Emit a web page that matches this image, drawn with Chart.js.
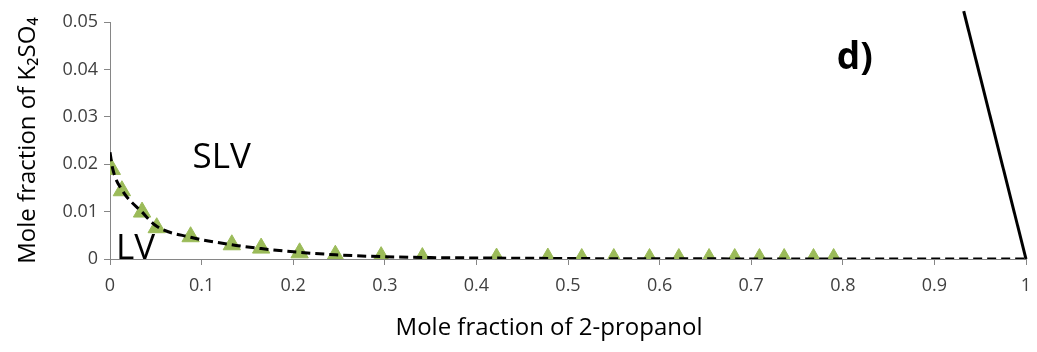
<!DOCTYPE html>
<html>
<head>
<meta charset="utf-8">
<script src="https://cdn.jsdelivr.net/npm/chart.js@4"></script>
<style>
  html, body { margin: 0; padding: 0; background: #fff; }
  #chart { display: block; }
</style>
</head>
<body>
<canvas id="chart" width="1037" height="352"></canvas>
<script>
// measured points (triangles)
const triX = [0.002, 0.013, 0.035, 0.051, 0.088, 0.133, 0.165, 0.207, 0.246, 0.296, 0.341, 0.422,
    0.478, 0.515, 0.550, 0.589, 0.621, 0.654, 0.682, 0.709, 0.736, 0.768, 0.790];
const triY = [0.0189, 0.0144, 0.0099, 0.0066, 0.0047, 0.0030, 0.0023, 0.0013, 0.0008, 0.0005, 0.0003, 0.0002,
    0.0002, 0.0001, 0.0001, 0.0001, 0.0001, 0.0001, 0.0001, 0.0001, 0.0001, 0.0001, 0.0001];

// model curve (dashed)
const curveX = [0, 0.003, 0.013, 0.035, 0.051, 0.088, 0.133, 0.165, 0.207, 0.246, 0.296, 0.35, 0.42, 0.5, 0.6, 0.7, 0.8, 0.9, 1];
const curveY = [0.0225, 0.0190, 0.0146, 0.0099, 0.0069, 0.0046, 0.0030, 0.0022, 0.0014, 0.0009, 0.0005, 0.0003,
    0.0002, 0.0001, 0.00005, 0.00002, 0, 0, 0];

// solid boundary line
const lineX = [0.932, 1];
const lineY = [0.0523, 0];

const xTicks = [0, 0.1, 0.2, 0.3, 0.4, 0.5, 0.6, 0.7, 0.8, 0.9, 1];
const yTicks = [0, 0.01, 0.02, 0.03, 0.04, 0.05];

const regionLabels = ['SLV', 'LV', 'd)'];
const xTitle = 'Mole fraction of 2-propanol';

const toXY = (xs, ys) => xs.map((x, i) => ({ x: x, y: ys[i] }));

const labelPlugin = {
    id: 'regionLabels',
    afterDatasetsDraw(chart) {
        const ctx = chart.ctx;
        const xs = chart.scales.x, ys = chart.scales.y;
        const spots = [
            { x: 0.122, y: 0.0213, font: '35px "Open Sans"' },
            { x: 0.028, y: 0.0020, font: '35px "Open Sans"' },
            { x: 0.813, y: 0.0424, font: 'bold 37px "Open Sans"' }
        ];
        ctx.save();
        ctx.fillStyle = '#000';
        ctx.textAlign = 'center';
        ctx.textBaseline = 'middle';
        regionLabels.forEach((t, i) => {
            ctx.font = spots[i].font;
            ctx.fillText(t, xs.getPixelForValue(spots[i].x), ys.getPixelForValue(spots[i].y));
        });
        // x axis title sits a bit left of the plot centre in the original
        ctx.font = '24px "Open Sans"';
        ctx.fillText(xTitle, 549, 328);
        ctx.restore();
    }
};

const axisGrid = {
    drawOnChartArea: false,
    drawTicks: true,
    tickLength: 6,
    color: '#868686'
};

const config = {
    type: 'scatter',
    data: {
        datasets: [
            {
                label: 'boundary',
                data: toXY(lineX, lineY),
                showLine: true,
                borderColor: '#000',
                borderWidth: 3,
                pointRadius: 0,
                clip: false
            },
            {
                label: 'model',
                data: toXY(curveX, curveY),
                showLine: true,
                borderColor: '#000',
                borderWidth: 3,
                borderDash: [9, 5],
                cubicInterpolationMode: 'monotone',
                pointRadius: 0
            },
            {
                label: 'exp',
                data: toXY(triX, triY),
                showLine: false,
                pointStyle: 'triangle',
                pointRadius: 10,
                backgroundColor: '#9BBB59',
                borderColor: '#9BBB59',
                borderWidth: 1
            }
        ]
    },
    options: {
        responsive: false,
        animation: false,
        layout: { padding: { top: 22, right: 5, left: 0, bottom: 0 } },
        plugins: {
            legend: { display: false },
            tooltip: { enabled: false }
        },
        scales: {
            x: {
                type: 'linear',
                min: 0,
                max: 1,
                afterBuildTicks: (s) => { s.ticks = xTicks.map(v => ({ value: v })); },
                afterFit: (s) => { s.height = 93; s.paddingLeft = 0; s.paddingRight = 0; },
                grid: axisGrid,
                border: { color: '#868686', width: 1 },
                ticks: {
                    color: '#404040',
                    font: { family: 'Open Sans', size: 18 },
                    padding: 10,
                    callback: (v) => String(v)
                },
                title: { display: false }
            },
            y: {
                type: 'linear',
                min: 0,
                max: 0.05,
                afterBuildTicks: (s) => { s.ticks = yTicks.map(v => ({ value: v })); },
                afterFit: (s) => { s.width = 110; s.paddingTop = 0; s.paddingBottom = 0; },
                grid: axisGrid,
                border: { color: '#868686', width: 1 },
                ticks: {
                    color: '#404040',
                    font: { family: 'Open Sans', size: 18 },
                    padding: 6,
                    callback: (v) => String(v)
                },
                title: {
                    display: true,
                    text: 'Mole fraction of K\u2082SO\u2084',
                    color: '#000',
                    font: { family: 'Open Sans', size: 24 },
                    padding: { top: 14, bottom: 0 }
                }
            }
        }
    },
    plugins: [labelPlugin]
};

const chart = new Chart(document.getElementById('chart'), config);
</script>
</body>
</html>
